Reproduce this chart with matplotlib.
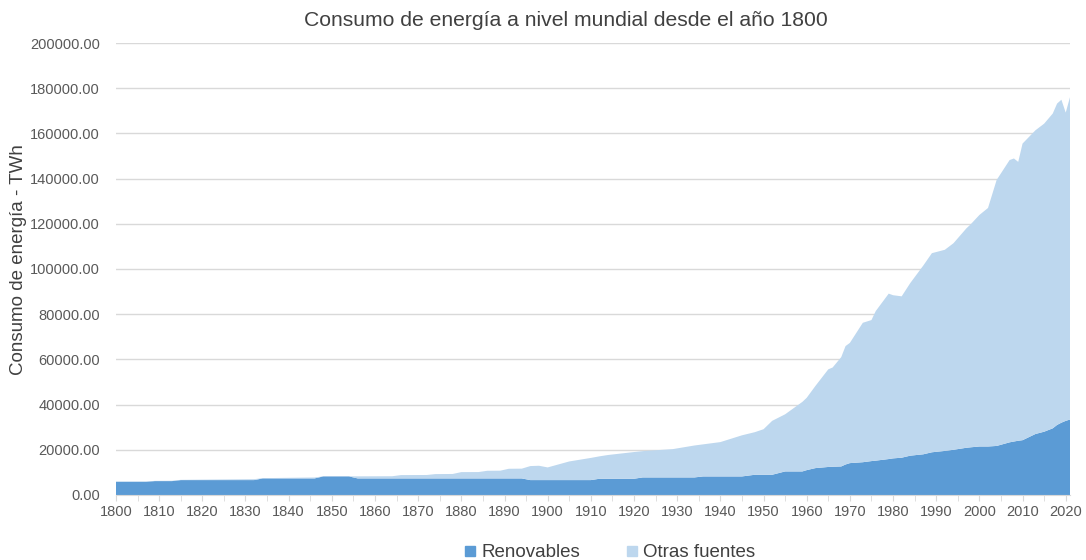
import matplotlib
matplotlib.use("Agg")
import matplotlib.pyplot as plt
from matplotlib.lines import Line2D
from matplotlib.ticker import FuncFormatter, MultipleLocator

plt.rcParams['font.family'] = ['Liberation Sans', 'DejaVu Sans']

# datos (TWh)
anios = [1800, 1807, 1809, 1813, 1815, 1832, 1834, 1846, 1848, 1854,
         1856, 1864, 1866, 1872, 1874, 1878, 1880, 1884, 1886, 1889,
         1891, 1894, 1896, 1898, 1900, 1905, 1910, 1912, 1914, 1920,
         1922, 1929, 1934, 1936, 1940, 1945, 1948, 1950, 1952, 1955,
         1959, 1960, 1962, 1965, 1966, 1968, 1969, 1970, 1973, 1975,
         1976, 1979, 1980, 1982, 1984, 1987, 1989, 1992, 1994, 1997,
         1998, 2000, 2002, 2004, 2007, 2008, 2009, 2010, 2013, 2015,
         2017, 2018, 2019, 2020, 2021]
renovables = [5860, 5860, 6150, 6150, 6590, 6590, 7330, 7330, 8210, 8210,
              7330, 7330, 7330, 7330, 7330, 7330, 7330, 7330, 7330, 7330,
              7330, 7330, 6590, 6590, 6590, 6590, 6590, 7180, 7180, 7180,
              7770, 7770, 7770, 8210, 8210, 8210, 8950, 8950, 8950, 10420,
              10420, 11000, 11890, 12400, 12500, 12630, 13500, 14100, 14500, 15000,
              15200, 15900, 16200, 16500, 17400, 18000, 18900, 19500, 20000, 20900,
              21100, 21460, 21460, 21700, 23300, 23660, 24000, 24250, 27000, 28000,
              29500, 31000, 32000, 32800, 33400]
otras_fuentes = [40, 90, 100, 150, 110, 410, 120, 420, 40, 40,
                 920, 970, 1470, 1520, 1910, 1970, 2790, 2820, 3380, 3420,
                 4270, 4320, 6210, 6340, 5610, 8250, 9810, 9920, 10520, 11820,
                 11630, 12530, 14130, 14190, 15190, 18190, 18850, 20150, 23850, 25280,
                 30780, 32000, 36310, 43200, 43900, 48370, 52400, 53200, 61700, 62400,
                 66200, 73200, 72200, 71400, 76400, 83500, 88100, 89000, 91400, 97100,
                 98700, 102440, 105540, 117700, 124900, 125240, 123400, 131250, 134400, 136300,
                 139300, 142200, 142900, 136400, 142700]

c_ren = '#5b9bd5'
c_otr = '#bdd7ee'
gris = '#595959'

fig = plt.figure(figsize=(10.86, 5.6), dpi=100)
ax = fig.add_axes([0.1068, 0.1161, 0.8785, 0.8071])

ax.stackplot(anios, renovables, otras_fuentes, colors=[c_ren, c_otr],
             linewidth=0, zorder=2)

ax.set_xlim(1800, 2021)
ax.set_ylim(0, 200000)
ax.yaxis.set_major_locator(MultipleLocator(20000))
ax.yaxis.set_major_formatter(FuncFormatter(lambda v, p: f"{v:.2f}"))
ax.xaxis.set_major_locator(MultipleLocator(10))
ax.xaxis.set_minor_locator(MultipleLocator(5))
ax.xaxis.set_major_formatter(FuncFormatter(lambda v, p: f"{int(v)}"))

ax.grid(axis='y', color='#d9d9d9', linewidth=1, zorder=1)
ax.set_axisbelow(True)
for s in ['top', 'right', 'left']:
    ax.spines[s].set_visible(False)
ax.spines['bottom'].set_color('#d9d9d9')
ax.spines['bottom'].set_zorder(3)
ax.tick_params(axis='y', length=0, pad=11.5, labelsize=10.5, labelcolor=gris)
ax.tick_params(axis='x', which='both', length=4, color='#d9d9d9',
               labelsize=10.5, labelcolor=gris, pad=3)

fig.text(0.521, 0.964, "Consumo de energía a nivel mundial desde el año 1800",
         fontsize=15.2, color='#404040', ha='center', va='center')
fig.text(0.0166, 0.536, "Consumo de energía - TWh", fontsize=13.5,
         color='#404040', rotation=90, ha='center', va='center')

handles = [Line2D([], [], marker='s', linestyle='', color=c_ren, markersize=6.5),
           Line2D([], [], marker='s', linestyle='', color=c_otr, markersize=6.5)]
fig.legend(handles, ["Renovables", "Otras fuentes"], loc='center',
           bbox_to_anchor=(0.561, 0.013), ncol=2, frameon=False,
           fontsize=13.5, handlelength=0.7, handletextpad=0.25,
           columnspacing=2.4, labelcolor='#404040')

fig.savefig("out.png", dpi=100)
